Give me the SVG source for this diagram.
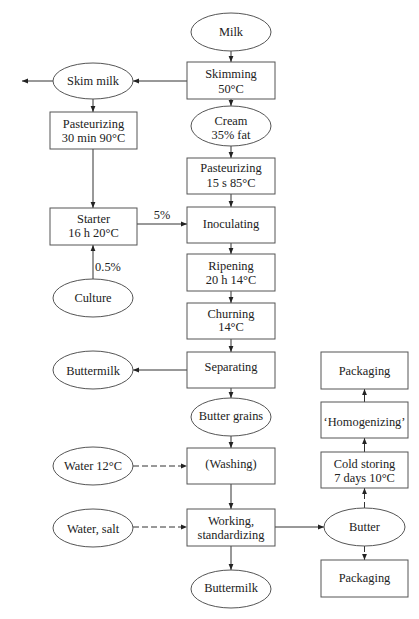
<svg xmlns="http://www.w3.org/2000/svg" width="419" height="619" viewBox="0 0 419 619">
<defs>
<marker id="ah" viewBox="0 0 10 10" refX="10" refY="5" markerWidth="6" markerHeight="6" markerUnits="userSpaceOnUse" orient="auto">
<path d="M0,1 L10,5 L0,9 z" fill="#222"/>
</marker>
<style>
.n rect, .n ellipse { fill: #fff; stroke: #555; stroke-width: 1; }
text { font-family: "Liberation Serif", "DejaVu Serif", serif; font-size: 12.4px; fill: #222; text-anchor: middle; }
.c line { stroke: #333; stroke-width: 1; marker-end: url(#ah); }
.c line.d { stroke-dasharray: 6 3; }
</style>
</defs>
<rect width="419" height="619" fill="#fff"/>
<g class="c">
<line x1="231" y1="51" x2="231" y2="62"/>
<line x1="187" y1="81" x2="133" y2="81"/>
<line x1="53" y1="81" x2="22" y2="81"/>
<line x1="93" y1="99" x2="93" y2="112"/>
<line x1="231" y1="99" x2="231" y2="106"/>
<line x1="231" y1="146" x2="231" y2="158"/>
<line x1="231" y1="194" x2="231" y2="207"/>
<line x1="93" y1="149" x2="93" y2="208"/>
<line x1="137" y1="224" x2="187" y2="224"/>
<line x1="93" y1="279" x2="93" y2="245"/>
<line x1="231" y1="243" x2="231" y2="254"/>
<line x1="231" y1="291" x2="231" y2="303"/>
<line x1="231" y1="339" x2="231" y2="352"/>
<line x1="187" y1="370" x2="133" y2="370"/>
<line x1="231" y1="388" x2="231" y2="398"/>
<line x1="231" y1="436" x2="231" y2="448"/>
<line class="d" x1="133" y1="466" x2="187" y2="466"/>
<line x1="231" y1="484" x2="231" y2="509"/>
<line class="d" x1="133" y1="527" x2="187" y2="527"/>
<line x1="231" y1="546" x2="231" y2="570"/>
<line x1="275" y1="527" x2="324" y2="527"/>
<line class="d" x1="364.5" y1="508" x2="364.5" y2="488"/>
<line x1="364.5" y1="452" x2="364.5" y2="438"/>
<line x1="364.5" y1="402" x2="364.5" y2="389"/>
<line class="d" x1="364.5" y1="546" x2="364.5" y2="560"/>
</g>
<g id="milk" class="n"><ellipse cx="231" cy="32" rx="40" ry="19"/><text x="231" y="36">Milk</text></g>
<g id="skimming" class="n"><rect x="187" y="62" width="88" height="37"/><text x="231" y="78">Skimming</text><text x="231" y="93">50°C</text></g>
<g id="skimmilk" class="n"><ellipse cx="93" cy="81" rx="40" ry="18"/><text x="93" y="85">Skim milk</text></g>
<g id="past30" class="n"><rect x="50" y="112" width="87" height="37"/><text x="93.5" y="128">Pasteurizing</text><text x="93.5" y="142">30 min 90°C</text></g>
<g id="cream" class="n"><ellipse cx="231" cy="126" rx="40" ry="20"/><text x="231" y="124.5">Cream</text><text x="231" y="139">35% fat</text></g>
<g id="past15" class="n"><rect x="187" y="158" width="88" height="36"/><text x="231" y="172">Pasteurizing</text><text x="231" y="187">15 s 85°C</text></g>
<g id="starter" class="n"><rect x="50" y="208" width="87" height="37"/><text x="93.5" y="223">Starter</text><text x="93.5" y="237">16 h 20°C</text></g>
<text x="162" y="219">5%</text>
<g id="inoculating" class="n"><rect x="187" y="207" width="88" height="36"/><text x="231" y="228">Inoculating</text></g>
<text x="108" y="271">0.5%</text>
<g id="ripening" class="n"><rect x="187" y="254" width="88" height="37"/><text x="231" y="270">Ripening</text><text x="231" y="284">20 h 14°C</text></g>
<g id="culture" class="n"><ellipse cx="93" cy="298" rx="40" ry="19"/><text x="93" y="302">Culture</text></g>
<g id="churning" class="n"><rect x="187" y="303" width="88" height="36"/><text x="231" y="318">Churning</text><text x="231" y="331">14°C</text></g>
<g id="separating" class="n"><rect x="187" y="352" width="88" height="36"/><text x="231" y="371">Separating</text></g>
<g id="buttermilk1" class="n"><ellipse cx="93" cy="370" rx="40" ry="19"/><text x="93" y="375">Buttermilk</text></g>
<g id="buttergrains" class="n"><ellipse cx="231" cy="417" rx="40" ry="19"/><text x="231" y="420">Butter grains</text></g>
<g id="washing" class="n"><rect x="187" y="448" width="88" height="36"/><text x="231" y="468">(Washing)</text></g>
<g id="water12" class="n"><ellipse cx="93" cy="466" rx="40" ry="19"/><text x="93" y="470">Water 12°C</text></g>
<g id="working" class="n"><rect x="187" y="509" width="88" height="37"/><text x="231" y="525">Working,</text><text x="231" y="539">standardizing</text></g>
<g id="watersalt" class="n"><ellipse cx="93" cy="528" rx="40" ry="19"/><text x="93" y="533">Water, salt</text></g>
<g id="buttermilk2" class="n"><ellipse cx="231" cy="589" rx="40" ry="19"/><text x="231" y="592">Buttermilk</text></g>
<g id="packaging1" class="n"><rect x="321" y="352" width="87" height="37"/><text x="364.5" y="375">Packaging</text></g>
<g id="homogenizing" class="n"><rect x="321" y="402" width="87" height="36"/><text x="364.5" y="426">‘Homogenizing’</text></g>
<g id="coldstoring" class="n"><rect x="321" y="452" width="87" height="36"/><text x="364.5" y="468">Cold storing</text><text x="364.5" y="482">7 days 10°C</text></g>
<g id="butter" class="n"><ellipse cx="364.5" cy="527" rx="40.5" ry="19"/><text x="364.5" y="531">Butter</text></g>
<g id="packaging2" class="n"><rect x="321" y="560" width="87" height="37"/><text x="364.5" y="582">Packaging</text></g>
</svg>
